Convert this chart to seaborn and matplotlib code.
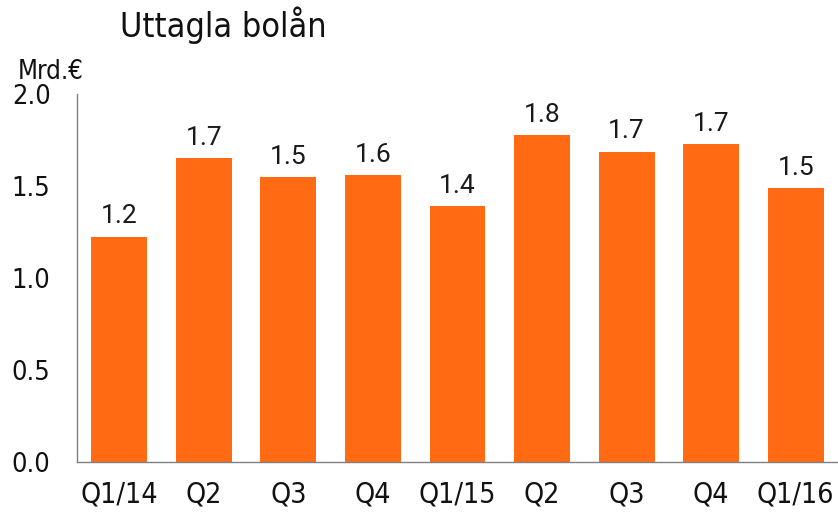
import matplotlib
matplotlib.use("Agg")
import matplotlib.pyplot as plt
import seaborn as sns
import pandas as pd

categories = ["Q1/14", "Q2", "Q3", "Q4", "Q1/15", "Q2", "Q3", "Q4", "Q1/16"]
values = [1.224, 1.650, 1.547, 1.560, 1.390, 1.776, 1.686, 1.727, 1.488]
labels = ["1.2", "1.7", "1.5", "1.6", "1.4", "1.8", "1.7", "1.7", "1.5"]
yticks = [0.0, 0.5, 1.0, 1.5, 2.0]
ytick_labels = ["0.0", "0.5", "1.0", "1.5", "2.0"]
title = "Uttagla bolån"
unit = "Mrd.€"

sns.set_style("white")
cond = dict(family="DejaVu Sans", stretch="condensed")

df = pd.DataFrame({"pos": range(len(values)), "value": values})

fig = plt.figure(figsize=(8.38, 5.14), dpi=100)
ax = fig.add_axes([77 / 838, 52 / 514, 1 - 77 / 838, (462 - 94) / 514])
sns.barplot(data=df, x="pos", y="value", color="#FF6A13", width=0.66,
            saturation=1, ax=ax, edgecolor="none")
ax.set_xlim(-0.5, len(values) - 0.5)
ax.set_ylim(0, 2.0)
ax.set_yticks(yticks)
ax.set_yticklabels(ytick_labels, fontsize=19.5, color="#111111", **cond)
ax.set_xticks(range(len(categories)))
ax.set_xticklabels(categories, fontsize=20.5, color="#111111", **cond)
ax.tick_params(axis="both", length=0)
ax.tick_params(axis="x", pad=13)
ax.tick_params(axis="y", pad=19)
ax.set_xlabel("")
ax.set_ylabel("")
for s in ["top", "right"]:
    ax.spines[s].set_visible(False)
for s in ["left", "bottom"]:
    ax.spines[s].set_color("#808080")
    ax.spines[s].set_linewidth(1.0)

for i, (v, lab) in enumerate(zip(values, labels)):
    ax.annotate(lab, (i, v), xytext=(0, 6), textcoords="offset points",
                ha="center", va="bottom", fontsize=19, family="Roboto",
                color="#1a1a1a")

fig.text(120 / 838, 1 - 25 / 514, title, fontsize=24.5,
         ha="left", va="center", color="#111111", **cond)
fig.text(18 / 838, 1 - 72 / 514, unit, fontsize=18.5,
         ha="left", va="center", color="#111111", **cond)

fig.savefig("out.png", dpi=100)
